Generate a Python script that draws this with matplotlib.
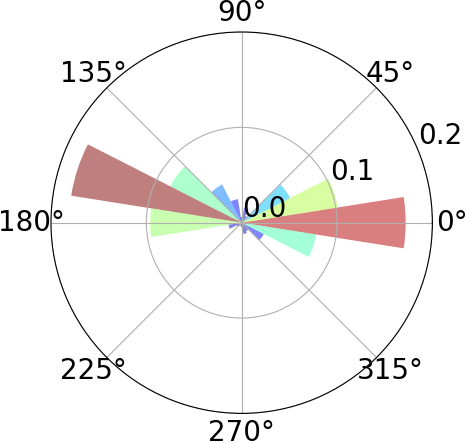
import numpy as np
import matplotlib
matplotlib.use("Agg")
import matplotlib.pyplot as plt

# bin centres in degrees (20 bins of 18 deg) and fraction per bin
bin_deg = [0, 18, 36, 54, 72, 90, 108, 126, 144, 162,
           180, 198, 216, 234, 252, 270, 288, 306, 324, 342]
fractions = [0.172, 0.102, 0.057, 0.008, 0.016, 0.006, 0.025, 0.045, 0.084, 0.181,
             0.096, 0.014, 0.006, 0.004, 0.003, 0.005, 0.012, 0.010, 0.026, 0.079]
r_ticks = [0.0, 0.1, 0.2]

theta = np.deg2rad(bin_deg)
radii = np.array(fractions)
width = 2 * np.pi / len(bin_deg)
colors = plt.cm.jet(radii / radii.max())

fig = plt.figure(figsize=(4.67, 4.43), dpi=100)
ax = fig.add_axes([0.109, 0.0668, 0.817, 0.861], projection='polar')
ax.bar(theta, radii, width=width, bottom=0.0, color=colors, alpha=0.5)

ax.set_ylim(0, 0.2)
ax.set_rticks(r_ticks)
ax.tick_params(labelsize=20)
ax.grid(True, color='#b0b0b0', linewidth=0.8)

fig.savefig("out.png", dpi=100)
